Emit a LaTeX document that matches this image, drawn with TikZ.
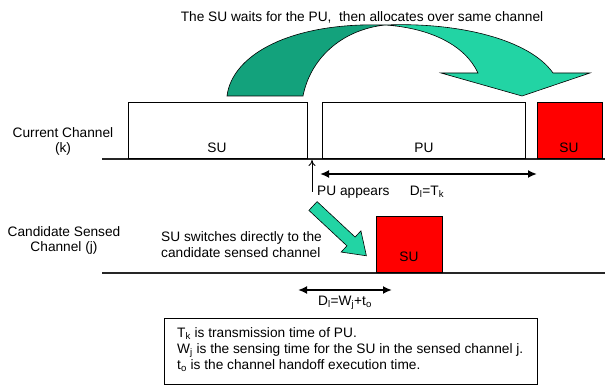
\documentclass[tikz,border=0pt]{standalone}
\usepackage{fontspec}
\setmainfont{Liberation Sans}
\usetikzlibrary{arrows.meta}
\definecolor{gdark}{HTML}{13A27C}
\definecolor{glight}{HTML}{22D4A4}
\definecolor{sured}{HTML}{FF0000}
\begin{document}
\begin{tikzpicture}[x=1pt,y=-1pt,
  font=\fontsize{13.7}{16}\selectfont,
  chanbox/.style={draw=black, line width=0.8pt, fill=white, anchor=south west, inner sep=0pt, minimum height=56pt},
  redbox/.style={chanbox, fill=sured},
  lbl/.style={inner sep=0pt},
  chanline/.style={line width=1.4pt, draw=black!85},
  dimarrow/.style={line width=2pt, {Latex[length=9pt,width=8pt]}-{Latex[length=9pt,width=8pt]}},
  greenshape/.style={draw=black, line width=0.6pt}]
\useasboundingbox (0,0) rectangle (605,387);

% title
\node[lbl] (title) at (362,17) {The SU waits for the PU,\ \ then allocates over same channel};

% channel lines
\coordinate (k0) at (102,159);
\coordinate (k1) at (605,159);
\coordinate (j0) at (102,273);
\coordinate (j1) at (605,273);
\draw[chanline] (k0) -- (k1);
\draw[chanline] (j0) -- (j1);

% channel names
\node[lbl, anchor=base] (cura) at (63,138) {Current Channel};
\node[lbl, anchor=base] (curb) at (63,153) {(k)};
\node[lbl, anchor=base] (canda) at (64,237) {Candidate Sensed};
\node[lbl, anchor=base] (candb) at (64,252) {Channel (j)};

% boxes on current channel
\node[chanbox, minimum width=179pt] (su1) at (128,159) {};
\node[chanbox, minimum width=203pt] (pu) at (322,159) {};
\node[redbox, minimum width=65pt] (su2) at (537,159) {};
\node[lbl] (su1t) at (217,148) {SU};
\node[lbl] (put) at (424,148) {PU};
\node[lbl] (su2t) at (569,148) {SU};

% box on candidate channel
\node[redbox, minimum width=66pt] (su3) at (376,273) {};
\node[lbl] (su3t) at (409,257) {SU};

% big curved green arrow
\draw[greenshape, fill=gdark] (227,96) .. controls (232,55) and (290,22) .. (385,25)
  .. controls (340,30) and (310,60) .. (303,96) -- cycle;
\draw[greenshape, fill=glight, line join=miter] (385,25) .. controls (460,22) and (530,40) .. (553,73)
  -- (590,73) -- (522,96) -- (441,73) -- (478,73)
  .. controls (465,45) and (430,28) .. (385,25) -- cycle;

% PU appears arrow
\coordinate (pua) at (312,192);
\coordinate (pub) at (312,160);
\draw[line width=0.9pt, -{To[length=6pt,width=7pt]}] (pua) -- (pub);
\node[lbl, anchor=west] (puapp) at (317,192) {PU appears};

% D_l = T_k
\coordinate (dk0) at (320,174);
\coordinate (dk1) at (537,174);
\draw[dimarrow] (dk0) -- (dk1);
\node[lbl] (dkt) at (427,192) {D\textsubscript{l}=T\textsubscript{k}};

% small green arrow
\begin{scope}[shift={(313,206)}, rotate=-43]
\draw[greenshape, fill=glight, line join=miter] (0,-6) -- (52,-6) -- (52,-14.5) -- (73,0) -- (52,14.5) -- (52,6) -- (0,6) -- cycle;
\end{scope}

% switch text
\node[lbl, anchor=west, align=left] (sw) at (161,244.5) {SU switches directly to the\\candidate sensed channel};

% D_l = W_j + t_o
\coordinate (dj0) at (298,290);
\coordinate (dj1) at (392,290);
\draw[dimarrow] (dj0) -- (dj1);
\node[lbl] (djt) at (345,303) {D\textsubscript{l}=W\textsubscript{j}+t\textsubscript{o}};

% notes
\node[draw=black, line width=0.8pt, anchor=north west, minimum width=373pt, minimum height=66pt] (notes) at (164,318) {};
\node[lbl, anchor=west, align=left] (notest) at (177,350)
  {T\textsubscript{k} is transmission time of PU.\\
   W\textsubscript{j} is the sensing time for the SU in the sensed channel j.\\
   t\textsubscript{o} is the channel handoff execution time.};
\end{tikzpicture}
\end{document}
